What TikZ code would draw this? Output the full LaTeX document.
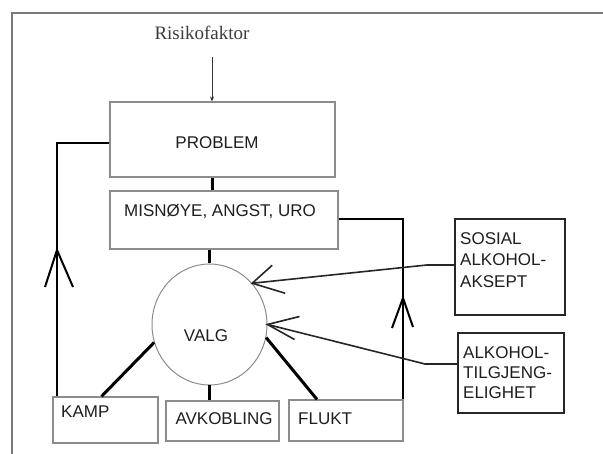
\documentclass[tikz,border=0pt]{standalone}
\usepackage{fontspec}
\setmainfont{Liberation Sans}
\newfontfamily\riskfont{Liberation Serif}
\usetikzlibrary{shapes.geometric,arrows.meta}
\definecolor{framegray}{HTML}{7A7A7A}
\definecolor{boxgray}{HTML}{8C8C8C}
\definecolor{txtgray}{HTML}{1E1E1E}
\definecolor{riskgray}{HTML}{3C3C3C}
\tikzset{
  box/.style={draw=boxgray, line width=1.2pt, rectangle, inner sep=0pt},
  factorbox/.style={draw=black!85, line width=2.5pt, rectangle, inner sep=0pt},
  lbl/.style={inner sep=0pt, text=txtgray, font=\fontsize{17}{21}\selectfont},
  heavy/.style={draw=black, line width=3pt},
  loopline/.style={draw=black, line width=2.6pt},
  thinarrow/.style={draw=black!85, line width=1.6pt},
}
\begin{document}
\begin{tikzpicture}[x=1pt,y=-1pt]
\useasboundingbox (0,0) rectangle (603,454);
% frame
\draw[framegray, line width=2pt] (12,454) -- (12,13) -- (603,13);

% boxes
\node[box, minimum width=225pt, minimum height=75pt] (prob) at (222.5,139.5) {};
\node[box, minimum width=228pt, minimum height=58pt] (mis) at (224,220) {};
\node[draw=boxgray, line width=1pt, ellipse, inner sep=0pt, minimum width=115pt, minimum height=121pt] (valg) at (209.5,324.5) {};
\node[box, minimum width=105pt, minimum height=46pt] (kamp) at (105.5,420) {};
\node[box, minimum width=113pt, minimum height=40pt] (avk) at (222.5,421) {};
\node[box, minimum width=114pt, minimum height=41pt] (flukt) at (346,420.5) {};
\node[factorbox, minimum width=110pt, minimum height=96pt] (sos) at (510,267) {};
\node[factorbox, minimum width=106pt, minimum height=80pt] (alk) at (511,373) {};

% texts
\node[inner sep=0pt, text=riskgray, font=\riskfont\fontsize{19}{22}\selectfont] (risk) at (202,33) {Risikofaktor};
\node[lbl] (probtxt) at (217,143) {PROBLEM};
\node[lbl] (mistxt) at (220,212) {MISNØYE, ANGST, URO};
\node[lbl] (valgtxt) at (206,336) {VALG};
\node[lbl, anchor=west] (kamptxt) at (61,412) {KAMP};
\node[lbl] (avktxt) at (224,419) {AVKOBLING};
\node[lbl, anchor=west] (fluktxt) at (298,419) {FLUKT};
\node[lbl, anchor=north west, align=left, font=\fontsize{17}{21.5}\selectfont] (sostxt) at (460,232) {SOSIAL\\ALKOHOL-\\AKSEPT};
\node[lbl, anchor=north west, align=left, font=\fontsize{17}{20}\selectfont] (alktxt) at (463,346) {ALKOHOL-\\TILGJENG-\\ELIGHET};

% risk arrow
\coordinate (rs) at (212,57);
\draw[black!80, line width=1pt, -{Stealth[length=5pt,width=4pt]}] (rs) -- (rs |- prob.north);

% stubs
\draw[heavy] (rs |- prob.south) -- (rs |- mis.north);
\draw[heavy] (valg.north) -- (valg.north |- mis.south);
\draw[heavy] (valg.south) -- (valg.south |- avk.north);
\draw[heavy] (valg.198) -- ([xshift=-4pt]kamp.north);
\draw[heavy] (valg.-13) -- ([xshift=-29pt]flukt.north);

% left loop
\coordinate (lx) at (57,143);
\draw[loopline] (lx |- kamp.north) -- (lx) -- (lx -| prob.west);
\coordinate (la) at (57,250);
\draw[loopline, line width=2pt] ([shift={(-12,37)}]la) -- (la) -- ([shift={(16,37)}]la);

% right loop
\coordinate (rx) at (403,219);
\draw[loopline] (rx -| mis.east) -- (rx) -- (rx |- flukt.north);
\coordinate (ra) at (403,298);
\draw[loopline, line width=2pt] ([shift={(-11,30)}]ra) -- (ra) -- ([shift={(10,29)}]ra);

% factor arrows
\coordinate (sb) at (427,265);
\coordinate (ab) at (425,364);
\draw[thinarrow] (sb -| sos.west) -- (sb) -- (valg.44);
\draw[thinarrow] ([shift={(20,-18)}]valg.44) -- (valg.44) -- ([shift={(33,10)}]valg.44);
\draw[thinarrow] (ab -| alk.west) -- (ab) -- (valg.0);
\draw[thinarrow] ([shift={(32,-8)}]valg.0) -- (valg.0) -- ([shift={(27,15)}]valg.0);
\end{tikzpicture}
\end{document}
